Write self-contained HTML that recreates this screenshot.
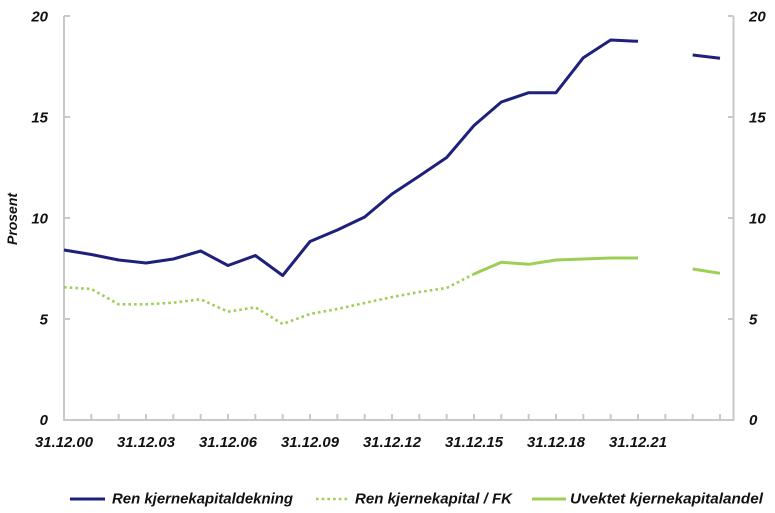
<!DOCTYPE html>
<html>
<head>
<meta charset="utf-8">
<style>
html,body{margin:0;padding:0;background:#fff;}
svg{display:block;}
text{font-family:"Liberation Sans",Arial,sans-serif;font-weight:bold;font-style:italic;fill:#111;}
</style>
</head>
<body>
<svg width="775" height="513" viewBox="0 0 775 513" xmlns="http://www.w3.org/2000/svg">
  <!-- axes -->
  <g stroke="#c8c8c8" stroke-width="2" fill="none">
    <line x1="64" y1="16" x2="64" y2="421"/>
    <line x1="733.5" y1="16" x2="733.5" y2="421"/>
    <line x1="63" y1="420" x2="734.5" y2="420"/>
    <!-- left ticks -->
    <line x1="64" y1="16" x2="70" y2="16"/>
    <line x1="64" y1="117" x2="70" y2="117"/>
    <line x1="64" y1="218" x2="70" y2="218"/>
    <line x1="64" y1="319" x2="70" y2="319"/>
    <!-- right ticks -->
    <line x1="728" y1="16" x2="733.5" y2="16"/>
    <line x1="728" y1="117" x2="733.5" y2="117"/>
    <line x1="728" y1="218" x2="733.5" y2="218"/>
    <line x1="728" y1="319" x2="733.5" y2="319"/>
    <!-- x ticks -->
    <path d="M91.33 420V414 M118.67 420V414 M146 420V414 M173.33 420V414 M200.67 420V414 M228 420V414 M255.33 420V414 M282.67 420V414 M310 420V414 M337.33 420V414 M364.67 420V414 M392 420V414 M419.33 420V414 M446.67 420V414 M474 420V414 M501.33 420V414 M528.67 420V414 M556 420V414 M583.33 420V414 M610.67 420V414 M638 420V414 M665.33 420V414 M692.67 420V414 M720 420V414"/>
  </g>

  <!-- left y labels -->
  <g font-size="15" text-anchor="end">
    <text x="48" y="21.5">20</text>
    <text x="48" y="122.5">15</text>
    <text x="48" y="223.5">10</text>
    <text x="48" y="324.5">5</text>
    <text x="48" y="425">0</text>
  </g>
  <!-- right y labels -->
  <g font-size="15" text-anchor="start">
    <text x="749" y="21.5">20</text>
    <text x="749" y="122.5">15</text>
    <text x="749" y="223.5">10</text>
    <text x="749" y="324.5">5</text>
    <text x="749" y="425">0</text>
  </g>

  <!-- y title -->
  <text font-size="13.5" text-anchor="middle" transform="translate(17,219) rotate(-90)" textLength="52" lengthAdjust="spacingAndGlyphs">Prosent</text>

  <!-- x labels -->
  <g font-size="15" text-anchor="middle">
    <text x="64" y="447" textLength="58" lengthAdjust="spacingAndGlyphs">31.12.00</text>
    <text x="146" y="447" textLength="58" lengthAdjust="spacingAndGlyphs">31.12.03</text>
    <text x="228" y="447" textLength="58" lengthAdjust="spacingAndGlyphs">31.12.06</text>
    <text x="310" y="447" textLength="58" lengthAdjust="spacingAndGlyphs">31.12.09</text>
    <text x="392" y="447" textLength="58" lengthAdjust="spacingAndGlyphs">31.12.12</text>
    <text x="474" y="447" textLength="58" lengthAdjust="spacingAndGlyphs">31.12.15</text>
    <text x="556" y="447" textLength="58" lengthAdjust="spacingAndGlyphs">31.12.18</text>
    <text x="638" y="447" textLength="58" lengthAdjust="spacingAndGlyphs">31.12.21</text>
  </g>

  <!-- green dotted: Ren kjernekapital / FK -->
  <polyline fill="none" stroke="#9dcf55" stroke-width="2.6" stroke-dasharray="2.6 3.1"
    points="64,287.3 91.33,289 118.67,304.3 146,304.3 173.33,302.7 200.67,299.3 228,311.7 255.33,307.3 282.67,324 310,314 337.33,309 364.67,303 392,297 419.33,292 446.67,288 474,274"/>

  <!-- green solid: Uvektet kjernekapitalandel -->
  <polyline fill="none" stroke="#9dcf55" stroke-width="3" stroke-linejoin="round"
    points="474,274 501.33,262.3 528.67,264.3 556,260 583.33,259 610.67,258 638,258"/>
  <polyline fill="none" stroke="#9dcf55" stroke-width="3"
    points="692.67,269 720,273.3"/>

  <!-- blue: Ren kjernekapitaldekning -->
  <polyline fill="none" stroke="#1f1f7c" stroke-width="3" stroke-linejoin="round"
    points="64,250 91.33,254.5 118.67,260 146,263 173.33,259 200.67,251 228,265.5 255.33,255.5 282.67,275.5 310,241.5 337.33,230 364.67,217 392,194 419.33,176 446.67,157.5 474,125.5 501.33,102 528.67,92.7 556,92.7 583.33,57.7 610.67,40 638,41.3"/>
  <polyline fill="none" stroke="#1f1f7c" stroke-width="3"
    points="692.67,55 720,58.3"/>

  <!-- legend -->
  <line x1="70" y1="499" x2="105" y2="499" stroke="#1f1f7c" stroke-width="3"/>
  <text x="112" y="503.5" font-size="15" textLength="181" lengthAdjust="spacingAndGlyphs">Ren kjernekapitaldekning</text>

  <line x1="316" y1="499" x2="348" y2="499" stroke="#9dcf55" stroke-width="2.6" stroke-dasharray="2.6 3.1"/>
  <text x="355" y="503.5" font-size="15" textLength="157" lengthAdjust="spacingAndGlyphs">Ren kjernekapital / FK</text>

  <line x1="532" y1="499" x2="566" y2="499" stroke="#9dcf55" stroke-width="3"/>
  <text x="570" y="503.5" font-size="15" textLength="193" lengthAdjust="spacingAndGlyphs">Uvektet kjernekapitalandel</text>
</svg>
</body>
</html>
